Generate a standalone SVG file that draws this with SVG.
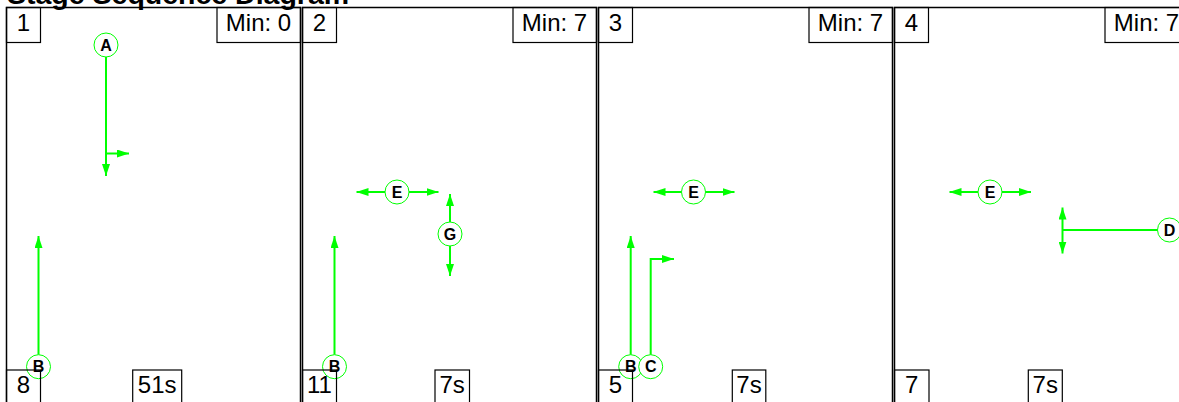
<svg xmlns="http://www.w3.org/2000/svg" width="1179" height="402" viewBox="0 0 1179 402">
<style>
.frame{fill:none;stroke:#000;stroke-width:1.5}
.box{fill:none;stroke:#000;stroke-width:1.2}
.lbl{font-family:"Liberation Sans",Arial,sans-serif;font-size:24px;fill:#000}
.title{font-family:"Liberation Sans",Arial,sans-serif;font-size:28.5px;font-weight:bold;fill:#000}
.conn{fill:none;stroke:#00ff00;stroke-width:2}
.node circle{fill:#fff;stroke:#00ff00;stroke-width:1}
.node text{font-family:"Liberation Sans",Arial,sans-serif;font-size:16px;font-weight:bold;fill:#000;text-anchor:middle}
</style>
<defs>
<marker id="ah" viewBox="0 0 12 8" refX="12" refY="4" markerWidth="12" markerHeight="8" markerUnits="userSpaceOnUse" orient="auto"><path d="M0,0 L12,4 L0,8 z" fill="#00ff00"/></marker>
</defs>
<rect width="1179" height="402" fill="#fff"/>
<text class="title" x="7" y="4">Stage Sequence Diagram</text>

<g id="panel1" transform="translate(6.5,7.5)">
<rect class="frame" x="0" y="0" width="294" height="405"/>
<rect class="box" x="0" y="0" width="34" height="35"/><text class="lbl" x="17" y="23" text-anchor="middle">1</text>
<rect class="box" x="210.5" y="0" width="83.5" height="35"/><text class="lbl" x="252" y="23" text-anchor="middle">Min: 0</text>
</g>
<g id="panel2" transform="translate(302.5,7.5)">
<rect class="frame" x="0" y="0" width="294" height="405"/>
<rect class="box" x="0" y="0" width="34" height="35"/><text class="lbl" x="17" y="23" text-anchor="middle">2</text>
<rect class="box" x="210.5" y="0" width="83.5" height="35"/><text class="lbl" x="252" y="23" text-anchor="middle">Min: 7</text>
</g>
<g id="panel3" transform="translate(598.5,7.5)">
<rect class="frame" x="0" y="0" width="294" height="405"/>
<rect class="box" x="0" y="0" width="34" height="35"/><text class="lbl" x="17" y="23" text-anchor="middle">3</text>
<rect class="box" x="210.5" y="0" width="83.5" height="35"/><text class="lbl" x="252" y="23" text-anchor="middle">Min: 7</text>
</g>
<g id="panel4" transform="translate(894.5,7.5)">
<rect class="frame" x="0" y="0" width="294" height="405"/>
<rect class="box" x="0" y="0" width="34" height="35"/><text class="lbl" x="17" y="23" text-anchor="middle">4</text>
<rect class="box" x="210.5" y="0" width="83.5" height="35"/><text class="lbl" x="252" y="23" text-anchor="middle">Min: 7</text>
</g>

<g id="connectors">
<path class="conn" d="M106,57 V176" marker-end="url(#ah)"/>
<path class="conn" d="M106,153.5 H129" marker-end="url(#ah)"/>
<path class="conn" d="M38.5,354.7 V236" marker-end="url(#ah)"/>
<path class="conn" d="M385,192 H356.5" marker-end="url(#ah)"/>
<path class="conn" d="M409,192 H438.5" marker-end="url(#ah)"/>
<path class="conn" d="M450,222 V194" marker-end="url(#ah)"/>
<path class="conn" d="M450,246 V276" marker-end="url(#ah)"/>
<path class="conn" d="M334.5,354.7 V236" marker-end="url(#ah)"/>
<path class="conn" d="M681.5,192 H653.5" marker-end="url(#ah)"/>
<path class="conn" d="M705.5,192 H734.5" marker-end="url(#ah)"/>
<path class="conn" d="M630.7,354.7 V236" marker-end="url(#ah)"/>
<path class="conn" d="M650.7,354.7 V259 H674" marker-end="url(#ah)"/>
<path class="conn" d="M978,192 H949.5" marker-end="url(#ah)"/>
<path class="conn" d="M1002,192 H1031" marker-end="url(#ah)"/>
<path class="conn" d="M1157.5,230 H1062.5"/>
<path class="conn" d="M1062.5,230 V207.5" marker-end="url(#ah)"/>
<path class="conn" d="M1062.5,230 V253.5" marker-end="url(#ah)"/>
</g>

<g id="nodeA" class="node"><circle cx="106" cy="45" r="12"/><text x="106" y="50.5">A</text></g>
<g id="nodeB1" class="node"><circle cx="38.5" cy="366.7" r="12"/></g>
<g id="nodeE2" class="node"><circle cx="397" cy="192" r="12"/><text x="397" y="197.5">E</text></g>
<g id="nodeG2" class="node"><circle cx="450" cy="234" r="12"/><text x="450" y="239.5">G</text></g>
<g id="nodeB2" class="node"><circle cx="334.5" cy="366.7" r="12"/></g>
<g id="nodeE3" class="node"><circle cx="693.5" cy="192" r="12"/><text x="693.5" y="197.5">E</text></g>
<g id="nodeB3" class="node"><circle cx="630.7" cy="366.7" r="12"/></g>
<g id="nodeC3" class="node"><circle cx="650.7" cy="366.7" r="12"/><text x="650.7" y="372.2">C</text></g>
<g id="nodeE4" class="node"><circle cx="990" cy="192" r="12"/><text x="990" y="197.5">E</text></g>
<g id="nodeD4" class="node"><circle cx="1169.5" cy="230" r="12"/><text x="1169.5" y="235.5">D</text></g>

<g id="bottomboxes">
<rect class="box" x="6.5" y="370" width="34" height="40"/><text class="lbl" x="23.5" y="393" text-anchor="middle">8</text>
<rect class="box" x="132.7" y="370" width="49" height="40"/><text class="lbl" x="157.2" y="393" text-anchor="middle">51s</text>
<rect class="box" x="302.5" y="370" width="34" height="40"/><text class="lbl" x="319.5" y="393" text-anchor="middle">11</text>
<rect class="box" x="435" y="370" width="34.5" height="40"/><text class="lbl" x="452.2" y="393" text-anchor="middle">7s</text>
<rect class="box" x="598.5" y="370" width="34" height="40"/><text class="lbl" x="615.5" y="393" text-anchor="middle">5</text>
<rect class="box" x="732.3" y="370" width="33.5" height="40"/><text class="lbl" x="749" y="393" text-anchor="middle">7s</text>
<rect class="box" x="894.5" y="370" width="34.5" height="40"/><text class="lbl" x="911.7" y="393" text-anchor="middle">7</text>
<rect class="box" x="1028.3" y="370" width="34" height="40"/><text class="lbl" x="1045.3" y="393" text-anchor="middle">7s</text>
</g>
<g id="nodelabelsB" class="node">
<text x="38.5" y="372.2">B</text>
<text x="334.5" y="372.2">B</text>
<text x="630.7" y="372.2">B</text>
</g>
</svg>
